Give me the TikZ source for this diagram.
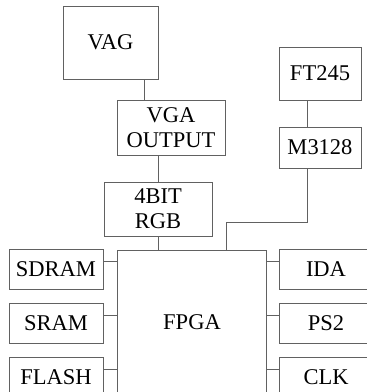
\documentclass[tikz,border=0pt]{standalone}
\usepackage{fontspec}
\setmainfont{Liberation Serif}
\begin{document}
\begin{tikzpicture}[x=1pt,y=-1pt,
  box/.style={draw=black!62, line width=1pt, inner sep=0pt, align=center,
    font=\fontsize{22.5}{25}\selectfont, text=black},
  wire/.style={draw=black!62, line width=1pt}]
\useasboundingbox (0,0) rectangle (367,392);
\clip (0,0) rectangle (367,392);
\node[box, minimum width=95pt, minimum height=73pt] (vag) at (110.5,42.5) {VAG};
\node[box, minimum width=108pt, minimum height=55pt] (vga) at (171,127.5) {VGA\\OUTPUT};
\node[box, minimum width=108pt, minimum height=54pt] (rgb) at (158,209) {4BIT\\RGB};
\node[box, minimum width=82pt, minimum height=53pt] (ft) at (320,73.5) {FT245};
\node[box, minimum width=82pt, minimum height=41pt] (m31) at (320,147.5) {M3128};
\node[box, minimum width=149pt, minimum height=180pt] (fpga) at (191.5,340) {};
\node[font=\fontsize{22.5}{25}\selectfont, inner sep=0pt] (fpgat) at (192,322) {FPGA};
\node[box, minimum width=94pt, minimum height=40pt] (sdram) at (56,269) {SDRAM};
\node[box, minimum width=94pt, minimum height=40pt] (sram) at (56,323) {SRAM};
\node[box, minimum width=94pt, minimum height=40pt] (flash) at (56,377) {FLASH};
\node[box, minimum width=94pt, minimum height=40pt] (ida) at (326,269) {IDA};
\node[box, minimum width=94pt, minimum height=40pt] (ps2) at (326,323) {PS2};
\node[box, minimum width=94pt, minimum height=40pt] (clk) at (326,377) {CLK};
% connectors
\draw[wire] (vag.south -| 144,0) -- (vga.north -| 144,0);
\draw[wire] (vga.south -| rgb.north) -- (rgb.north);
\draw[wire] (rgb.south) -- (rgb.south |- fpga.north);
\draw[wire] (ft.south -| 307,0) -- (m31.north -| 307,0);
\coordinate (b1) at (307,222);
\coordinate (b2) at (226,222);
\draw[wire] (m31.south -| b1) -- (b1) -- (b2) -- (b2 |- fpga.north);
\foreach \n in {sdram,sram,flash}{
  \draw[wire] ([yshift=8pt]\n.east) -- ([yshift=8pt]\n.east -| fpga.west);
}
\foreach \n in {ida,ps2,clk}{
  \draw[wire] ([yshift=8pt]\n.west) -- ([yshift=8pt]\n.west -| fpga.east);
}
\end{tikzpicture}
\end{document}
